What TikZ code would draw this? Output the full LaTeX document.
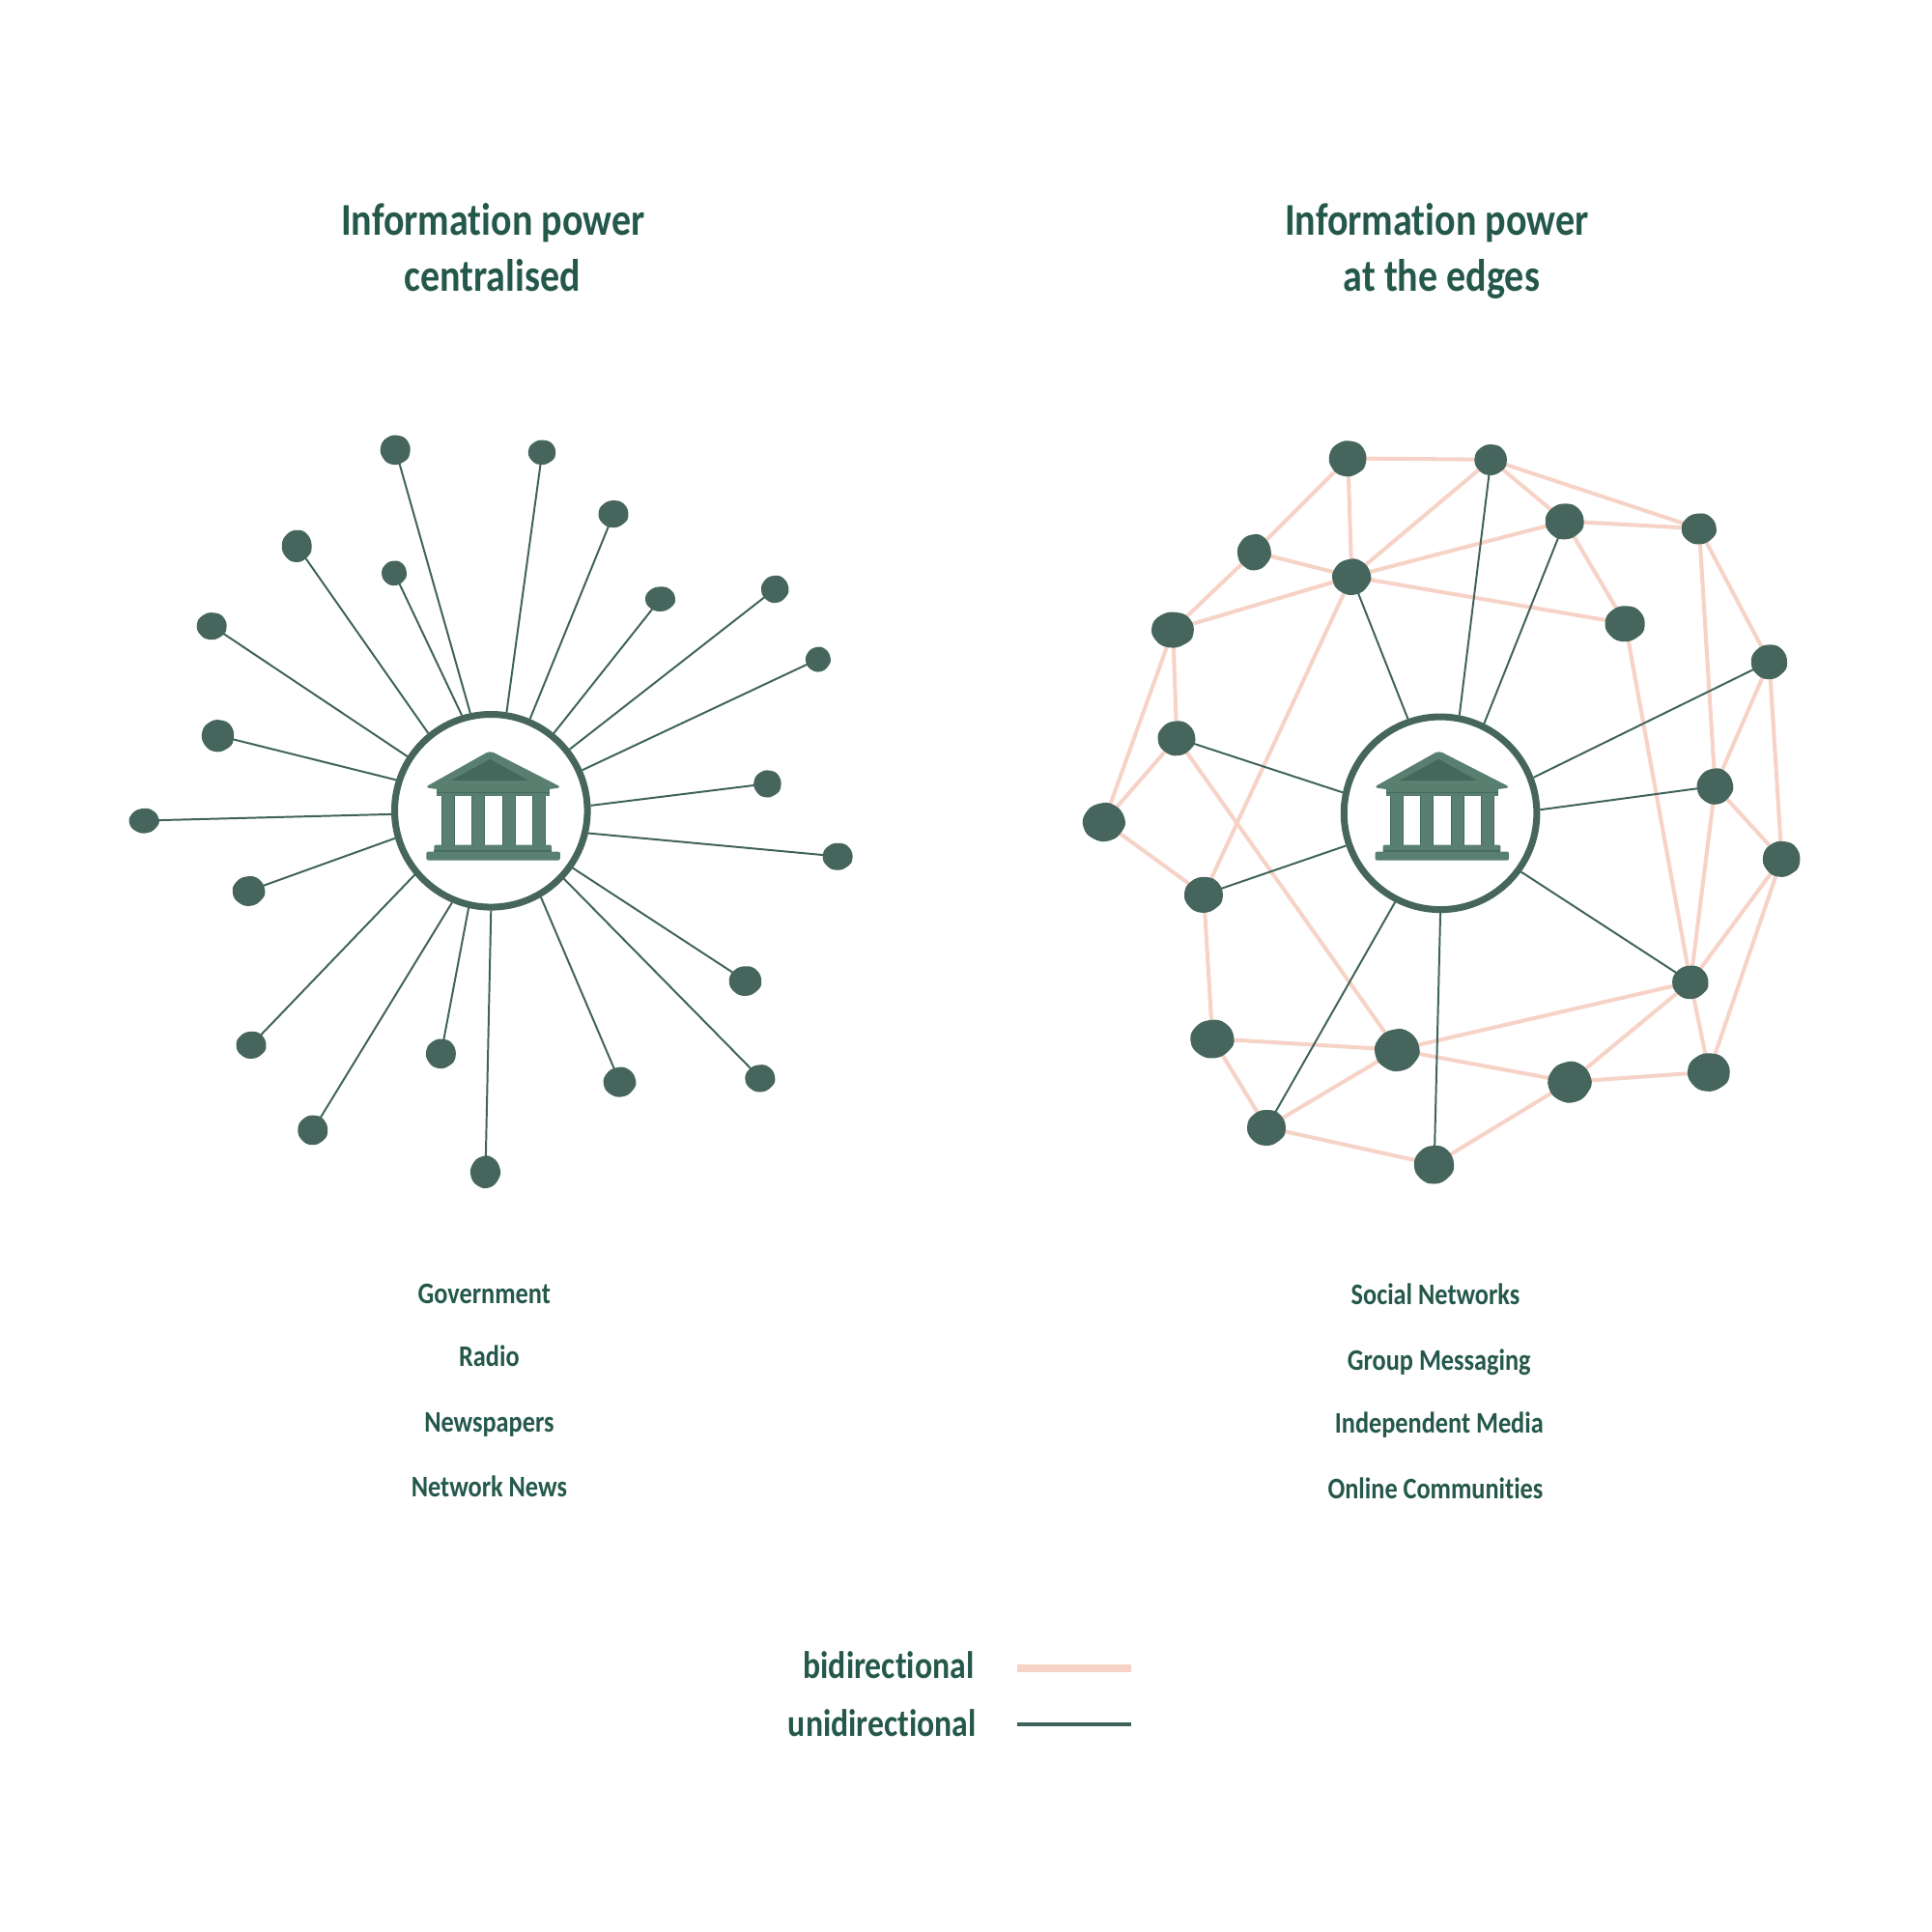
\documentclass[tikz,border=0pt]{standalone}
\usepackage{fontspec}
\setmainfont{Carlito}
\newfontfamily\handfont[FakeStretch=0.85,Ligatures=NoCommon,BoldFont=Carlito Bold]{Carlito}
\usetikzlibrary{shapes.geometric}
\definecolor{inkgreen}{HTML}{24584A}
\definecolor{blobgreen}{HTML}{46665D}
\definecolor{spoke}{HTML}{3F635A}
\definecolor{bipink}{HTML}{F7D3C7}
\definecolor{templemid}{HTML}{587F70}
\definecolor{templedark}{HTML}{44695C}
\tikzset{
  x=0.012755cm,y=-0.012755cm,
  hubring/.style={circle,draw=blobgreen,line width=2pt,minimum size=156.5*0.3629pt,inner sep=0pt},
  dotanchor/.style={ellipse,inner sep=0pt,outer sep=0pt},
  uni/.style={draw=spoke,line width=0.56pt},
  bi/.style={draw=bipink,line width=1.15pt},
  titletext/.style={text=inkgreen,anchor=base,inner sep=0pt,font=\fontsize{13.4}{16}\handfont\bfseries},
  listtext/.style={text=inkgreen,anchor=base,inner sep=0pt,font=\fontsize{8.8}{11}\handfont\bfseries},
  legendtext/.style={text=inkgreen,anchor=base east,inner sep=0pt,font=\fontsize{11.3}{14}\handfont\bfseries},
  pics/temple/.style={code={
    \begin{scope}[x=0.00333cm,y=-0.00333cm,shift={(-325,-355)}]
      \fill[templemid,rounded corners=1.2pt] (117,286)--(320,172)--(543,286)--(505,292)--(155,292)--cycle;
      \fill[templedark] (198,265)--(320,198)--(440,265)--cycle;
      \fill[templemid] (155,292) rectangle (505,312);
      \fill[templedark] (155,300) rectangle (505,303);
      \foreach \cx in {168,262,358,451}{
        \fill[templemid] (\cx,312) rectangle ++(42,153);
        \fill[templedark] (\cx,312) rectangle ++(3,153);
        \fill[templedark] (\cx+39,312) rectangle ++(3,153);
      }
      \fill[templemid,rounded corners=0.4pt] (146,465) rectangle (512,489);
      \fill[templedark] (146,482) rectangle (512,486);
      \fill[templemid,rounded corners=0.4pt] (122,486) rectangle (538,513);
    \end{scope}
  }}
}
% name / x / y / width / height / rotation seed of the blob
\def\leftnodes{l1/321/365/24/24/10,l2/440/367/22/20/70,l3/498/417/24/22/130,l4/536/486/24/20/200,
l5/629/478/22/22/250,l6/664/535/20/20/310,l7/623/636/22/22/30,l8/680/695/24/22/95,
l9/605/796/26/24/160,l10/617/875/24/22/220,l11/503/878/26/24/280,l12/394/951/24/26/340,
l13/358/855/24/24/45,l14/254/917/24/24/110,l15/204/848/24/22/175,l16/202/723/26/24/235,
l17/117/666/24/20/295,l18/177/597/26/26/15,l19/172/508/24/22/75,l20/241/443/24/26/140,
l21/320/465/20/20/205}
\def\rightnodes{ra/1094/372/30/29/20,rb/1210/373/26/25/80,rc/1270/423/31/29/140,rd/1379/429/28/25/200,
re/1018/448/27/29/260,rf/1097/468/31/29/320,rg/952/511/34/29/40,rh/1319/506/32/29/100,
ri/1436/537/29/28/160,rj/955/599/30/28/220,rk/1392/638/29/29/280,rl/896/667/34/31/340,
rm/1446/697/30/29/50,rn/977/726/31/29/110,ro/1372/797/29/27/170,rp/984/843/35/31/230,
rq/1134/852/36/34/290,rr/1274/878/35/33/350,rs/1387/870/34/31/60,rt/1028/915/31/29/120,
ru/1164/945/32/31/180}
\newcommand{\blobshape}{plot[smooth cycle,tension=0.8] coordinates {(1,0.04) (0.72,0.68) (0.02,1.02) (-0.7,0.74) (-1.02,0.04) (-0.74,-0.66) (-0.04,-0.98) (0.68,-0.74)}}
\begin{document}
\begin{tikzpicture}
\useasboundingbox[fill=white] (0,0) rectangle (1568,1568);
% invisible anchors for every dot
\foreach \nm/\px/\py/\w/\h/\r in \leftnodes {
  \node[dotanchor,minimum width=\w*0.26pt,minimum height=\h*0.26pt] (\nm) at (\px,\py) {};
}
\foreach \nm/\px/\py/\w/\h/\r in \rightnodes {
  \node[dotanchor,minimum width=\w*0.26pt,minimum height=\h*0.26pt] (\nm) at (\px,\py) {};
}
% hubs
\node[hubring] (hubL) at (398.5,658) {};
\node[hubring] (hubR) at (1169,660) {};
\pic at (399,657) {temple};
\pic at (1169,657) {temple};
% left spokes
\foreach \nm/\ang in {l1/102.7,l2/81.5,l3/67.4,l4/51.6,l5/38.5,l6/24.3,l7/3.5,l8/-13,l9/-35.9,l10/-43.5,l11/-60.6,l12/-90,l13/-103.5,l14/-113,l15/-140.5,l16/-164.6,l17/-178.6,l18/162.6,l19/147.7,l20/129,l21/107.8} {
  \draw[uni] (hubL.\ang) -- (\nm);
}
% right bidirectional links
\foreach \p/\q in {ra/rb,ra/re,ra/rf,rb/rf,rb/rc,rb/rd,rc/rd,rc/rf,rc/rh,rf/rh,re/rf,re/rg,rg/rf,rg/rj,rg/rl,rj/rl,rj/rq,rl/rn,rn/rf,rn/rp,rp/rq,rp/rt,rt/rq,rt/ru,ru/rr,rq/rr,rq/ro,rr/ro,rr/rs,rs/ro,rs/rm,ro/rm,ro/rk,ro/rh,rd/rk,rd/ri,ri/rk,ri/rm,rk/rm} {
  \draw[bi] (\p) -- (\q);
}
% right spokes
\foreach \nm/\ang in {rf/109,rb/79.2,rc/64.7,ri/21.4,rk/2.8,ro/-36.3,ru/-90,rt/-117.9,rn/-161.3,rj/168.8} {
  \draw[uni] (hubR.\ang) -- (\nm);
}
% dots
\foreach \nm/\px/\py/\w/\h/\r in \leftnodes {
  \pgfmathsetmacro{\tilt}{\r/12-15}
  \begin{scope}[shift={(\px,\py)},xscale=\w/2,yscale=\h/2,rotate=\tilt]
    \fill[blobgreen] \blobshape;
  \end{scope}
}
\foreach \nm/\px/\py/\w/\h/\r in \rightnodes {
  \pgfmathsetmacro{\tilt}{\r/12-15}
  \begin{scope}[shift={(\px,\py)},xscale=\w/2,yscale=\h/2,rotate=\tilt]
    \fill[blobgreen] \blobshape;
  \end{scope}
}
% titles
\node[titletext] (t1) at (400,191) {Information power};
\node[titletext] (t2) at (399.5,236) {centralised};
\node[titletext] (t3) at (1166,191) {Information power};
\node[titletext] (t4) at (1170,236) {at the edges};
% lists
\node[listtext] (g1) at (393,1058) {Government};
\node[listtext] (g2) at (397,1109) {Radio};
\node[listtext] (g3) at (397,1162) {Newspapers};
\node[listtext] (g4) at (397,1215) {Network News};
\node[listtext] (s1) at (1165,1059) {Social Networks};
\node[listtext] (s2) at (1168,1112) {Group Messaging};
\node[listtext] (s3) at (1168,1163) {Independent Media};
\node[listtext] (s4) at (1165,1216) {Online Communities};
% legend
\node[legendtext] (lb) at (791,1362) {bidirectional};
\node[legendtext] (lu) at (793,1409) {unidirectional};
\coordinate (b1) at (825.5,1354); \coordinate (b2) at (918,1354);
\coordinate (u1) at (825.5,1399.5); \coordinate (u2) at (918,1399.5);
\draw[draw=bipink,line width=2.3pt] (b1) -- (b2);
\draw[draw=spoke,line width=1.15pt] (u1) -- (u2);
\end{tikzpicture}
\end{document}
